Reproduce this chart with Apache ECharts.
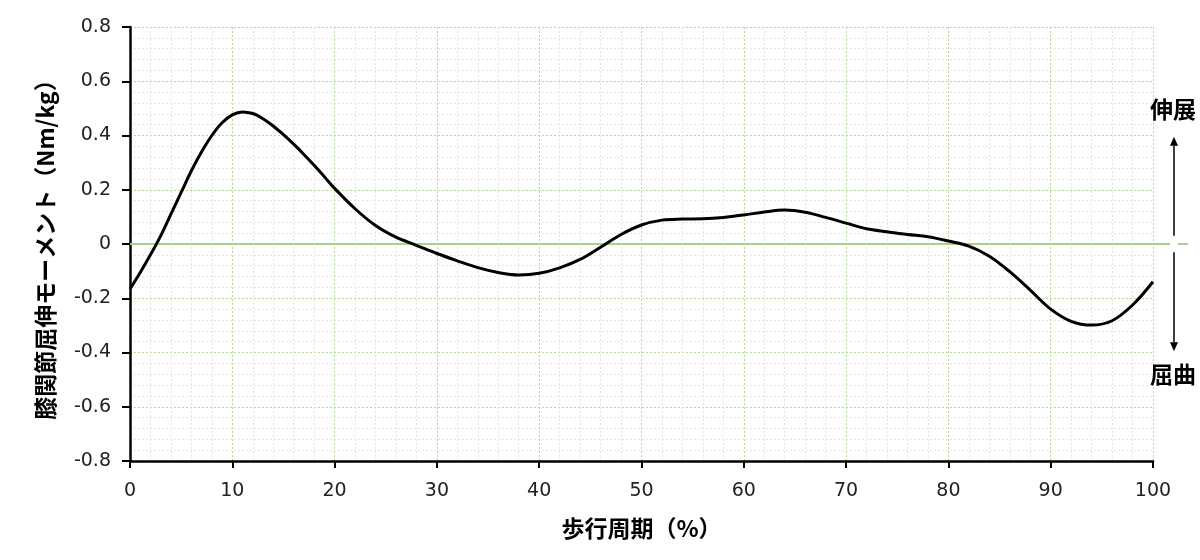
<!DOCTYPE html>
<html>
<head>
<meta charset="utf-8">
<script src="https://cdn.jsdelivr.net/npm/echarts@6/dist/echarts.min.js"></script>
<style>html,body{margin:0;padding:0;background:#fff}#c{width:1200px;height:560px}</style>
</head>
<body>
<div id="c"></div>
<script>
const gaitPercent = [0,1,2,3,4,5,6,7,8,9,10,11,12,13,14,15,16,17,18,19,20,22,24,26,28,30,32,34,36,38,40,42,44,46,48,50,52,54,56,58,60,62,64,66,68,70,72,74,76,78,80,82,84,86,88,90,92,94,96,98,100];
const kneeMoment = [-0.166,-0.105,-0.04,0.03,0.11,0.19,0.27,0.34,0.40,0.447,0.476,0.487,0.481,0.462,0.435,0.403,0.368,0.33,0.29,0.248,0.205,0.13,0.068,0.025,-0.005,-0.035,-0.062,-0.087,-0.105,-0.114,-0.108,-0.088,-0.057,-0.012,0.035,0.07,0.088,0.092,0.093,0.098,0.107,0.118,0.125,0.117,0.098,0.077,0.056,0.045,0.035,0.027,0.011,-0.008,-0.045,-0.102,-0.17,-0.24,-0.285,-0.299,-0.283,-0.225,-0.139];
const xTitle = '歩行周期（%）';
const yTitle = '膝関節屈伸モーメント（Nm/kg）';
const upLabel = '伸展';
const downLabel = '屈曲';

const font = '"Noto Sans CJK JP", "Noto Sans", sans-serif';
const numFont = '"DejaVu Sans", sans-serif';
const chart = echarts.init(document.getElementById('c'));
const majorGrid = '#b4da98';
const minorGrid = '#e4e4e4';

chart.setOption({
  animation: false,
  backgroundColor: '#fff',
  grid: { left: 130, right: 47, top: 27, bottom: 99 },
  xAxis: {
    type: 'value', min: 0, max: 100, interval: 10,
    name: xTitle, nameLocation: 'middle', nameGap: 56,
    nameTextStyle: { fontFamily: font, fontSize: 23, fontWeight: 'bold', color: '#000' },
    axisLine: { onZero: false, lineStyle: { color: '#000', width: 2.5 } },
    axisTick: { show: true, length: 7, lineStyle: { color: '#000', width: 2 } },
    axisLabel: { fontFamily: numFont, fontSize: 19, color: '#222', margin: 21 },
    splitLine: { show: true, lineStyle: { color: majorGrid, type: [2, 2], width: 1 } },
    minorTick: { show: false, splitNumber: 5 },
    minorSplitLine: { show: true, lineStyle: { color: minorGrid, type: [2, 2], width: 1 } }
  },
  yAxis: {
    type: 'value', min: -0.8, max: 0.8, interval: 0.2,
    name: yTitle, nameLocation: 'middle', nameGap: 73, nameRotate: 90,
    nameTextStyle: { fontFamily: font, fontSize: 23, fontWeight: 'bold', color: '#000' },
    axisLine: { show: true, onZero: false, lineStyle: { color: '#000', width: 2.5 } },
    axisTick: { show: true, length: 8, lineStyle: { color: '#000', width: 2 } },
    axisLabel: { fontFamily: numFont, fontSize: 19, color: '#222', margin: 19,
      formatter: v => (Math.abs(v) < 1e-9 ? '0' : v.toFixed(1)) },
    splitLine: { show: true, lineStyle: { color: majorGrid, type: [2, 2], width: 1 } },
    minorTick: { show: false, splitNumber: 5 },
    minorSplitLine: { show: true, lineStyle: { color: minorGrid, type: [2, 2], width: 1 } }
  },
  series: [{
    type: 'line',
    data: gaitPercent.map((x, i) => [x, kneeMoment[i]]),
    smooth: 0.35,
    showSymbol: false,
    lineStyle: { color: '#000', width: 3 },
    z: 5
  }]
});

function placeGraphics() {
  const p0 = chart.convertToPixel({ gridIndex: 0 }, [0, 0]);
  const p100 = chart.convertToPixel({ gridIndex: 0 }, [100, 0]);
  const ax = p100[0] + 21;
  const yUpStart = chart.convertToPixel({ gridIndex: 0 }, [0, 0.03])[1];
  const yUpEnd = chart.convertToPixel({ gridIndex: 0 }, [0, 0.395])[1];
  const yDnStart = chart.convertToPixel({ gridIndex: 0 }, [0, -0.03])[1];
  const yDnEnd = chart.convertToPixel({ gridIndex: 0 }, [0, -0.395])[1];
  const yUpLbl = chart.convertToPixel({ gridIndex: 0 }, [0, 0.498])[1];
  const yDnLbl = chart.convertToPixel({ gridIndex: 0 }, [0, -0.479])[1];
  const head = 9, hw = 4;
  chart.setOption({
    graphic: [
      { type: 'line', z: 3, shape: { x1: p0[0], y1: p0[1], x2: p100[0] + 35, y2: p0[1] },
        style: { stroke: '#a9d18e', lineWidth: 2 } },
      { type: 'rect', z: 4, shape: { x: ax - 4, y: p0[1] - 3, width: 8, height: 6 }, style: { fill: '#fff' } },
      { type: 'line', shape: { x1: ax, y1: yUpStart, x2: ax, y2: yUpEnd + head }, style: { stroke: '#000', lineWidth: 1.5 } },
      { type: 'polygon', shape: { points: [[ax, yUpEnd], [ax - hw, yUpEnd + head], [ax + hw, yUpEnd + head]] }, style: { fill: '#000' } },
      { type: 'line', shape: { x1: ax, y1: yDnStart, x2: ax, y2: yDnEnd - head }, style: { stroke: '#000', lineWidth: 1.5 } },
      { type: 'polygon', shape: { points: [[ax, yDnEnd], [ax - hw, yDnEnd - head], [ax + hw, yDnEnd - head]] }, style: { fill: '#000' } },
      { type: 'text', x: ax - 1, y: yUpLbl, style: { text: upLabel, fontFamily: font, fontSize: 23, fontWeight: 'bold', fill: '#000', align: 'center', verticalAlign: 'middle' } },
      { type: 'text', x: ax - 1, y: yDnLbl, style: { text: downLabel, fontFamily: font, fontSize: 23, fontWeight: 'bold', fill: '#000', align: 'center', verticalAlign: 'middle' } }
    ]
  });
}
placeGraphics();
</script>
</body>
</html>
